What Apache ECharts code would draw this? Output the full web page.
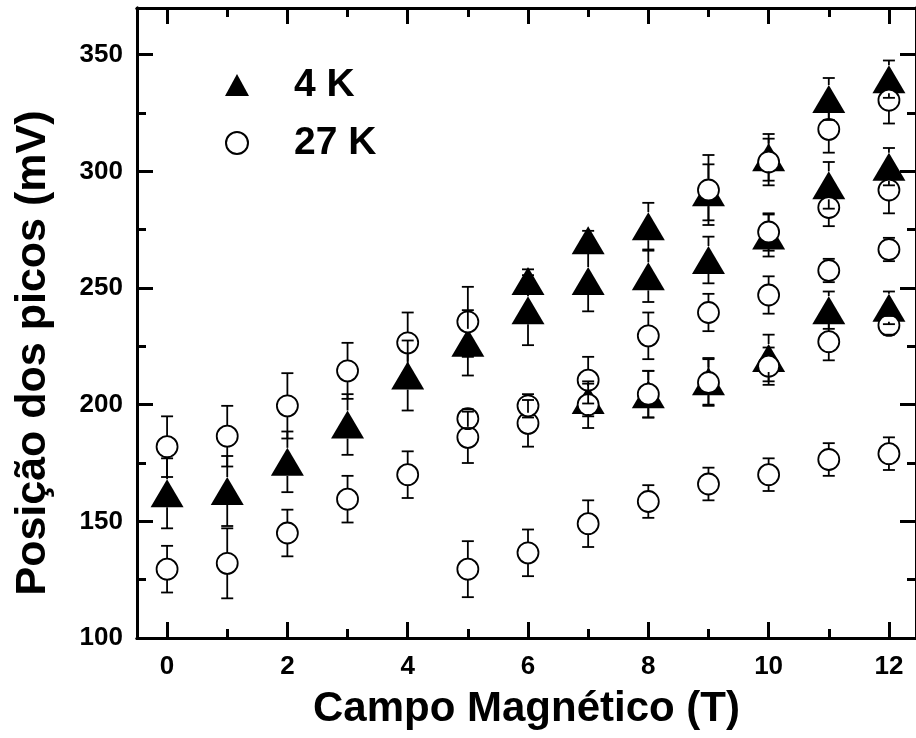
<!DOCTYPE html>
<html>
<head>
<meta charset="utf-8">
<script src="https://cdn.jsdelivr.net/npm/echarts@6/dist/echarts.min.js"></script>
<style>
  html, body { margin: 0; padding: 0; background: #fff; }
  #chart { width: 916px; height: 738px; }
</style>
</head>
<body>
<div id="chart"></div>
<script>
// campo magnetico (T)
var fields = [0, 1, 2, 3, 4, 5, 6, 7, 8, 9, 10, 11, 12];

// 4 K - posicao dos picos (mV) e erro
var k4A = [162, 163, 175.5, 191.5, 212.5, 226.5, 253, 270.5, 276.5, 291, 306, 331, 339.5];
var k4AErr = [15, 15, 13, 13, 15, 14, 5, 4, 10, 12, 10, 9, 8];
var k4B = [null, null, null, null, null, null, 240.5, 253, 255, 262, 272.5, 294, 302];
var k4BErr = [null, null, null, null, null, null, 15, 13, 11, 10, 9, 10, 8];
var k4C = [null, null, null, null, null, null, null, 202, 204.5, 210, 220, 240.5, 241.5];
var k4CErr = [null, null, null, null, null, null, null, 7, 10, 10, 10, 8, 7];

// 27 K
var k27A = [182, 186.5, 199.5, 214.5, 226.5, 235.5, null, null, null, 292, 304, 318, 330.5];
var k27AErr = [13, 13, 14, 12, 13, 15, null, null, null, 15, 10, 10, 10];
var k27B = [129.5, 132, 145, 159.5, 170, 186, 192, 200, 204.5, 209.5, 216.5, 227, 234];
var k27BErr = [10, 15, 10, 10, 10, 11, 10, 10, 10, 10, 8, 8, 4];
var k27C = [null, null, null, null, null, 194, 199.5, 210.5, 229.5, 239.5, 247, 257.5, 266.5];
var k27CErr = [null, null, null, null, null, 4, 5, 10, 10, 8, 8, 5, 5];
var k27D = [null, null, null, null, null, null, null, null, null, null, 274, 284.5, 292];
var k27DErr = [null, null, null, null, null, null, null, null, null, null, 8, 8, 10];
var k27E = [null, null, null, null, null, 129.5, 136.5, 149, 158.5, 166, 170, 176.5, 179];
var k27EErr = [null, null, null, null, null, 12, 10, 10, 7, 7, 7, 7, 7];

// ticks
var xMajor = [0, 2, 4, 6, 8, 10, 12];
var xMinor = [1, 3, 5, 7, 9, 11];
var yMajor = [100, 150, 200, 250, 300, 350];
var yMinor = [125, 175, 225, 275, 325];

var FONT = '"Liberation Sans", Arial, sans-serif';

function points(vals, errs) {
  var out = [];
  fields.forEach(function(f, i) {
    if (vals[i] != null) out.push([f, vals[i], errs[i]]);
  });
  return out;
}

var k4Pts = [].concat(points(k4A, k4AErr), points(k4B, k4BErr), points(k4C, k4CErr));
var k27Pts = [].concat(points(k27A, k27AErr), points(k27B, k27BErr), points(k27C, k27CErr),
  points(k27D, k27DErr), points(k27E, k27EErr));

function errorSeries(data, gap) {
  return {
    type: 'custom',
    data: data,
    z: 10,
    silent: true,
    encode: { x: 0, y: 1 },
    renderItem: function(params, api) {
      var x = api.value(0), y = api.value(1), e = api.value(2);
      var c = api.coord([x, y]);
      var top = api.coord([x, y + e]);
      var bot = api.coord([x, y - e]);
      var st = { stroke: '#000', lineWidth: 1.8 };
      var kids = [];
      if (c[1] - top[1] > gap) {
        kids.push({ type: 'line', shape: { x1: c[0], y1: c[1] - gap, x2: c[0], y2: top[1] }, style: st });
      }
      kids.push({ type: 'line', shape: { x1: c[0] - 6, y1: top[1], x2: c[0] + 6, y2: top[1] }, style: st });
      if (bot[1] - c[1] > gap) {
        kids.push({ type: 'line', shape: { x1: c[0], y1: c[1] + gap, x2: c[0], y2: bot[1] }, style: st });
      }
      kids.push({ type: 'line', shape: { x1: c[0] - 6, y1: bot[1], x2: c[0] + 6, y2: bot[1] }, style: st });
      return { type: 'group', children: kids };
    }
  };
}

function xAxisDef(pos, ticks, len, labels) {
  return {
    type: 'value', min: -0.5, max: 12.45, position: pos,
    axisLine: { show: true, onZero: false, lineStyle: { color: '#000', width: 3 } },
    axisTick: { show: true, inside: true, length: len, customValues: ticks, lineStyle: { color: '#000', width: 3 } },
    axisLabel: labels ? { show: true, customValues: ticks, color: '#000', fontSize: 26, fontWeight: 'bold', fontFamily: FONT, margin: 16 } : { show: false },
    splitLine: { show: false }
  };
}

function yAxisDef(pos, ticks, len, labels) {
  return {
    type: 'value', min: 100, max: 370, position: pos,
    axisLine: { show: true, onZero: false, lineStyle: { color: '#000', width: 3 } },
    axisTick: { show: true, inside: true, length: len, customValues: ticks, lineStyle: { color: '#000', width: 3 } },
    axisLabel: labels ? { show: true, customValues: ticks, color: '#000', fontSize: 26, fontWeight: 'bold', fontFamily: FONT, margin: 14 } : { show: false },
    splitLine: { show: false }
  };
}

var xMain = xAxisDef('bottom', xMajor, 16, true);
xMain.name = 'Campo Magnético (T)';
xMain.nameLocation = 'middle';
xMain.nameGap = 50;
xMain.nameTextStyle = { color: '#000', fontSize: 42, fontWeight: 'bold', fontFamily: FONT };

var yMain = yAxisDef('left', yMajor, 16, true);
yMain.name = 'Posição dos picos (mV)';
yMain.nameLocation = 'middle';
yMain.nameGap = 82;
yMain.nameTextStyle = { color: '#000', fontSize: 43, fontWeight: 'bold', fontFamily: FONT, padding: [0, 60, 0, 0] };

var chart = echarts.init(document.getElementById('chart'));
chart.setOption({
  backgroundColor: '#fff',
  animation: false,
  grid: { left: 137, top: 8, right: -6, bottom: 100, containLabel: false },
  legend: {
    orient: 'vertical', left: 220, top: 60,
    itemWidth: 24, itemHeight: 22, itemGap: 18,
    data: ['4 K', '27 K'],
    textStyle: { color: '#000', fontSize: 39, fontWeight: 'bold', fontFamily: FONT, lineHeight: 40, padding: [0, 0, 0, 40] }
  },
  xAxis: [
    xMain,
    xAxisDef('bottom', xMinor, 9, false),
    xAxisDef('top', xMajor, 16, false),
    xAxisDef('top', xMinor, 9, false)
  ],
  yAxis: [
    yMain,
    yAxisDef('left', yMinor, 9, false),
    yAxisDef('right', yMajor, 16, false),
    yAxisDef('right', yMinor, 9, false)
  ],
  series: [
    {
      name: '4 K', type: 'scatter', z: 2,
      symbol: 'triangle', symbolSize: [33, 28],
      itemStyle: { color: '#000', opacity: 1 },
      emphasis: { disabled: true },
      data: k4Pts.map(function(p) { return [p[0], p[1]]; })
    },
    {
      name: '27 K', type: 'scatter', z: 3,
      symbol: 'circle', symbolSize: 21,
      itemStyle: { color: '#fff', borderColor: '#000', borderWidth: 1.8, opacity: 1 },
      emphasis: { disabled: true },
      data: k27Pts.map(function(p) { return [p[0], p[1]]; })
    },
    errorSeries(k4Pts, 14),
    errorSeries(k27Pts, 10.5)
  ]
});
</script>
</body>
</html>
